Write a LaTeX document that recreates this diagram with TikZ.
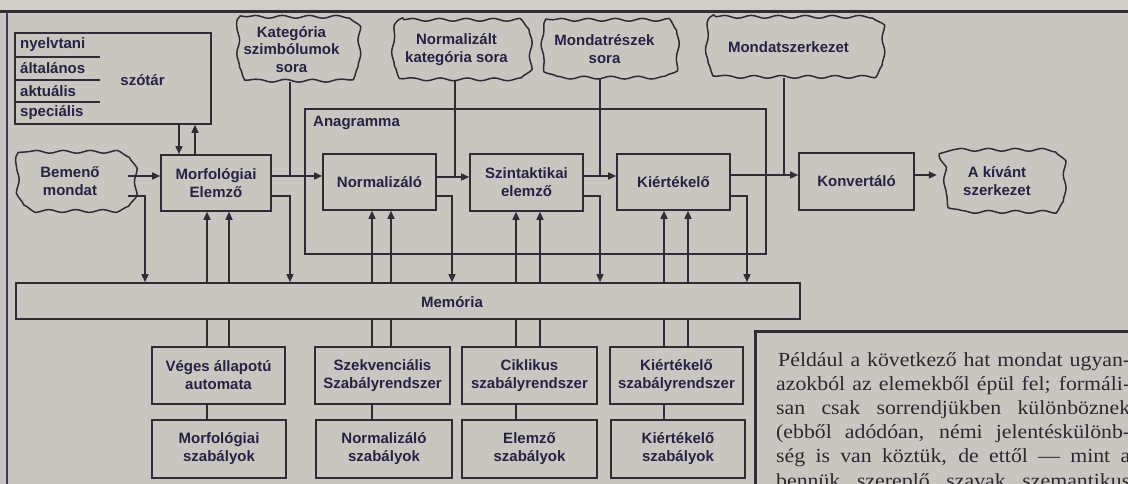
\documentclass[tikz,border=0pt]{standalone}
\usepackage{fontspec}
\setmainfont{Liberation Sans}
\newfontfamily\bodyserif[FakeStretch=1.09]{Liberation Serif}
\usetikzlibrary{arrows.meta,decorations.pathmorphing}

\definecolor{paper}{RGB}{201,198,193}
\definecolor{paperlight}{RGB}{209,206,201}
\definecolor{ink}{RGB}{48,44,54}
\definecolor{labelink}{RGB}{38,34,66}
\definecolor{frameink}{RGB}{64,56,100}
\definecolor{bodyink}{RGB}{45,40,48}

% wavy outline with rounded ends around a cloud node
\newcommand\cloudoutline[1]{%
  \draw[cloudline]
    ([xshift=16pt]#1.north west) -- ([xshift=-16pt]#1.north east)
    arc[start angle=90, end angle=0, radius=16pt]
    -- ([yshift=16pt]#1.south east)
    arc[start angle=0, end angle=-90, radius=16pt]
    -- ([xshift=16pt]#1.south west)
    arc[start angle=-90, end angle=-180, radius=16pt]
    -- ([yshift=-16pt]#1.north west)
    arc[start angle=180, end angle=90, radius=16pt] -- cycle;}

\begin{document}
\begin{tikzpicture}[x=1pt, y=-1pt,
  every node/.style={font=\fontsize{15}{18}\selectfont\bfseries, text=labelink, inner sep=0pt},
  box/.style={draw=ink, line width=1.6pt, align=center},
  cloud/.style={align=center},
  cloudline/.style={draw=ink, line width=1.5pt, line join=round, decorate,
    decoration={snake, amplitude=1.4pt, segment length=27pt}},
  ln/.style={draw=ink, line width=1.5pt},
  arr/.style={ln, -{Triangle[length=8pt, width=7pt]}},
  divider/.style={draw=ink, line width=1.2pt},
  bodytext/.style={anchor=base west, font=\bodyserif\fontsize{20}{24}\selectfont, text=bodyink},
]
\useasboundingbox (0,0) rectangle (1128,484);
\clip (0,0) rectangle (1128,484);

% paper and page frame
\fill[paper] (0,0) rectangle (1128,484);
\fill[paperlight] (0,0) rectangle (1128,12);
\draw[line width=3pt, draw=ink] (0,12) -- (1128,12);
\draw[line width=2.4pt, draw=frameink] (7,12) -- (7,484);

% dictionary block
\node[box, minimum width=196pt, minimum height=91pt] (szotar) at (113,78.5) {};
\node (szotarlabel) at (142.5,80) {szótár};
\node[anchor=west] (nyelvtani) at (20,45) {nyelvtani};
\node[anchor=west] (altalanos) at (20,68.5) {általános};
\node[anchor=west] (aktualis) at (20,91) {aktuális};
\node[anchor=west] (specialis) at (20,113) {speciális};
\draw[divider] (15,57) -- (100,57);
\draw[divider] (15,80) -- (100,80);
\draw[divider] (15,102) -- (100,102);

% data clouds
\node[cloud, minimum width=121pt, minimum height=65pt, font=\fontsize{15}{17.5}\selectfont\bfseries] (kat) at (291.5,49.5) {Kategória\\szimbólumok\\sora};
\node[cloud, minimum width=137pt, minimum height=60pt] (normkat) at (456.5,50) {Normalizált\\kategória sora};
\node[cloud, minimum width=135pt, minimum height=58pt] (mondr) at (604.5,49) {Mondatrészek\\sora};
\node[cloud, minimum width=177pt, minimum height=61pt] (mondsz) at (788.5,47.5) {Mondatszerkezet};
\node[cloud, minimum width=116pt, minimum height=58pt] (bemeno) at (70,181) {Bemenő\\mondat};
\node[cloud, minimum width=120pt, minimum height=63pt] (kivant) at (997,181.5) {A kívánt\\szerkezet};
\cloudoutline{kat}
\cloudoutline{normkat}
\cloudoutline{mondr}
\cloudoutline{mondsz}
\cloudoutline{bemeno}
\cloudoutline{kivant}

% processing chain
\node[box, minimum width=461pt, minimum height=145pt] (anag) at (535.5,181.5) {};
\node[anchor=west] (anaglabel) at (313,123) {Anagramma};
\node[box, minimum width=110pt, minimum height=56pt] (morf) at (216,183) {Morfológiai\\Elemző};
\node[box, minimum width=113pt, minimum height=56pt] (norm) at (379.5,182) {Normalizáló};
\node[box, minimum width=113pt, minimum height=57pt] (szint) at (526.5,182.5) {Szintaktikai\\elemző};
\node[box, minimum width=113pt, minimum height=56pt] (kiert) at (673.5,182) {Kiértékelő};
\node[box, minimum width=115pt, minimum height=57pt] (konv) at (856.5,181.5) {Konvertáló};

% memory bar
\node[box, minimum width=784pt, minimum height=36pt] (mem) at (408,301) {};
\node (memlabel) at (452,302) {Memória};

% rule systems
\node[box, minimum width=133pt, minimum height=57pt] (veges) at (218.5,375.5) {Véges állapotú\\automata};
\node[box, minimum width=134pt, minimum height=58pt] (morfsz) at (219,449) {Morfológiai\\szabályok};
\node[box, minimum width=135pt, minimum height=57pt] (szekv) at (382.5,375.5) {Szekvenciális\\Szabályrendszer};
\node[box, minimum width=136pt, minimum height=58pt] (normsz) at (384,449) {Normalizáló\\szabályok};
\node[box, minimum width=135pt, minimum height=57pt] (cikl) at (529.5,375.5) {Ciklikus\\szabályrendszer};
\node[box, minimum width=135pt, minimum height=58pt] (elemsz) at (529.5,449) {Elemző\\szabályok};
\node[box, minimum width=133pt, minimum height=57pt] (kiertr) at (676.5,375.5) {Kiértékelő\\szabályrendszer};
\node[box, minimum width=134pt, minimum height=58pt] (kiertsz) at (678,449) {Kiértékelő\\szabályok};

% columns and rows used by the connectors
\coordinate (cSd) at (179,0);   \coordinate (cSu) at (195,0);
\coordinate (cM1) at (207,0);   \coordinate (cM2) at (229,0);
\coordinate (cN1) at (372,0);   \coordinate (cN2) at (391,0);
\coordinate (cS1) at (516,0);   \coordinate (cS2) at (540,0);
\coordinate (cK1) at (664,0);   \coordinate (cK2) at (688,0);
\coordinate (cB) at (145,0);    \coordinate (cKat) at (290,0);
\coordinate (cNe) at (452,0);   \coordinate (cNk) at (455,0);
\coordinate (cMr) at (600,0);   \coordinate (cKe) at (747,0);
\coordinate (cMs) at (784,0);
\coordinate (r1) at (0,176);    \coordinate (rA) at (0,177);
\coordinate (r2) at (0,175);    \coordinate (r3) at (0,196);

% main flow
\draw[arr] (bemeno.east |- r1) -- (morf.west |- r1);
\draw[arr] (morf.east |- r1) -- (norm.west |- r1);
\draw[ln] (kat.south -| cKat) -- (cKat |- r1);
\draw[arr] (norm.east |- rA) -- (szint.west |- rA);
\draw[ln] (normkat.south -| cNk) -- (cNk |- rA);
\draw[arr] (szint.east |- r1) -- (kiert.west |- r1);
\draw[ln] (mondr.south -| cMr) -- (cMr |- r1);
\draw[arr] (kiert.east |- r2) -- (konv.west |- r2);
\draw[ln] (mondsz.south -| cMs) -- (cMs |- r2);
\draw[arr] (konv.east |- r2) -- (kivant.west |- r2);

% dictionary access
\draw[arr] (cSd |- szotar.south) -- (cSd |- morf.north);
\draw[arr] (cSu |- morf.north) -- (cSu |- szotar.south);

% writes into memory
\draw[arr] (bemeno.east |- r3) -| (cB |- mem.north);
\draw[arr] (morf.east |- r3) -| (cKat |- mem.north);
\draw[arr] (norm.east |- r3) -| (cNe |- mem.north);
\draw[arr] (szint.east |- r3) -| (cMr |- mem.north);
\draw[arr] (kiert.east |- r3) -| (cKe |- mem.north);

% reads from memory
\draw[arr] (cM1 |- mem.north) -- (cM1 |- morf.south);
\draw[arr] (cM2 |- mem.north) -- (cM2 |- morf.south);
\draw[arr] (cN1 |- mem.north) -- (cN1 |- norm.south);
\draw[arr] (cN2 |- mem.north) -- (cN2 |- norm.south);
\draw[arr] (cS1 |- mem.north) -- (cS1 |- szint.south);
\draw[arr] (cS2 |- mem.north) -- (cS2 |- szint.south);
\draw[arr] (cK1 |- mem.north) -- (cK1 |- kiert.south);
\draw[arr] (cK2 |- mem.north) -- (cK2 |- kiert.south);

% memory to rule systems
\draw[ln] (cM1 |- mem.south) -- (cM1 |- veges.north);
\draw[ln] (cM2 |- mem.south) -- (cM2 |- veges.north);
\draw[ln] (cN1 |- mem.south) -- (cN1 |- szekv.north);
\draw[ln] (cN2 |- mem.south) -- (cN2 |- szekv.north);
\draw[ln] (cS1 |- mem.south) -- (cS1 |- cikl.north);
\draw[ln] (cS2 |- mem.south) -- (cS2 |- cikl.north);
\draw[ln] (cK1 |- mem.south) -- (cK1 |- kiertr.north);
\draw[ln] (cK2 |- mem.south) -- (cK2 |- kiertr.north);
\draw[ln] (cM1 |- veges.south) -- (cM1 |- morfsz.north);
\draw[ln] (cN1 |- szekv.south) -- (cN1 |- normsz.north);
\draw[ln] (cS1 |- cikl.south) -- (cS1 |- elemsz.north);
\draw[ln] (cK1 |- kiertr.south) -- (cK1 |- kiertsz.north);

% text column at the lower right
\draw[line width=3pt, draw=ink] (1140,331) -- (755,331) -- (755,490);
\node[bodytext] (p1) at (778,366) {\makebox[352pt][s]{Például a következő hat mondat ugyan-}};
\node[bodytext] (p2) at (776,390) {\makebox[354pt][s]{azokból az elemekből épül fel; formáli-}};
\node[bodytext] (p3) at (776,414) {\makebox[354pt][s]{san csak sorrendjükben különböznek}};
\node[bodytext] (p4) at (776,438) {\makebox[354pt][s]{(ebből adódóan, némi jelentéskülönb-}};
\node[bodytext] (p5) at (776,462) {\makebox[354pt][s]{ség is van köztük, de ettől — mint a}};
\node[bodytext] (p6) at (776,487) {\makebox[354pt][s]{bennük szereplő szavak szemantikus}};
\end{tikzpicture}
\end{document}
